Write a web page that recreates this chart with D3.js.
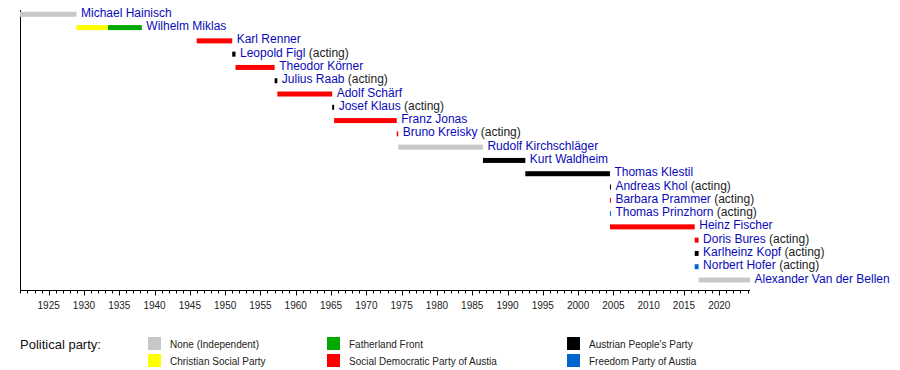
<!DOCTYPE html>
<html><head><meta charset="utf-8">
<script src="https://cdn.jsdelivr.net/npm/d3@7/dist/d3.min.js"></script>
<style>body{margin:0;background:#fff}svg{display:block}</style>
</head><body><svg id="c" width="900" height="370"></svg>
<script>
const presidents = ["Michael Hainisch","Wilhelm Miklas","Karl Renner","Leopold Figl","Theodor Körner","Julius Raab","Adolf Schärf","Josef Klaus","Franz Jonas","Bruno Kreisky","Rudolf Kirchschläger","Kurt Waldheim","Thomas Klestil","Andreas Khol","Barbara Prammer","Thomas Prinzhorn","Heinz Fischer","Doris Bures","Karlheinz Kopf","Norbert Hofer","Alexander Van der Bellen"];
const acting = [false,false,false,true,false,true,false,true,false,true,false,false,false,true,true,true,false,true,true,true,false];
// term segments: row index, party, start, end (decimal years)
const segRow   = [0,1,1,2,3,4,5,6,7,8,9,10,11,12,13,14,15,16,17,18,19,20];
const segParty = ["none","csp","ff","spo","ovp","spo","ovp","spo","ovp","spo","spo","none","ovp","ovp","ovp","spo","fpo","spo","spo","ovp","fpo","none"];
const segStart = [1920.94,1928.94,1933.40,1945.97,1951.00,1951.47,1957.01,1957.39,1965.16,1965.44,1974.31,1974.52,1986.52,1992.52,2004.51,2004.51,2004.51,2004.52,2016.52,2016.52,2016.52,2017.07];
const segEnd   = [1928.94,1933.40,1938.20,1951.00,1951.47,1957.01,1957.39,1965.16,1965.44,1974.31,1974.52,1986.52,1992.52,2004.51,2004.52,2004.52,2004.52,2016.52,2017.07,2017.07,2017.07,2024.35];
const partyKeys = ["none","csp","ff","spo","ovp","fpo"];
const partyNames = ["None (Independent)","Christian Social Party","Fatherland Front","Social Democratic Party of Austia","Austrian People's Party","Freedom Party of Austia"];
const partyColors = ["#c8c8c8","#ffff00","#00aa00","#ff0000","#000000","#0066cc"];
const majorTicks = d3.range(1925, 2021, 5);
const minorTicks = d3.range(1921, 2025, 1);
const domain = [1920.94, 2024.35];

const svg = d3.select("#c");
const x = d3.scaleLinear().domain(domain).range([20, 750]);
const y = d3.scalePoint().domain(d3.range(presidents.length)).range([14.3, 280]);
const color = d3.scaleOrdinal().domain(partyKeys).range(partyColors);
const barH = 5;

// axes lines
svg.append("line").attr("x1",20.5).attr("x2",20.5).attr("y1",10).attr("y2",291).attr("stroke","#000");
const axisG = svg.append("g").attr("transform","translate(0,290.5)");
axisG.append("line").attr("x1",20).attr("x2",750).attr("stroke","#000");
axisG.selectAll("line.minor").data(minorTicks).join("line").attr("class","minor")
  .attr("x1",d=>Math.round(x(d))+0.5).attr("x2",d=>Math.round(x(d))+0.5).attr("y1",0).attr("y2",3).attr("stroke","#000");
axisG.selectAll("line.major").data(majorTicks).join("line").attr("class","major")
  .attr("x1",d=>Math.round(x(d))+0.5).attr("x2",d=>Math.round(x(d))+0.5).attr("y1",0).attr("y2",5).attr("stroke","#000");
axisG.selectAll("text").data(majorTicks).join("text")
  .attr("x",d=>x(d)).attr("y",18).attr("text-anchor","middle")
  .attr("font-family","Liberation Sans, Arial, sans-serif").attr("font-size",10).attr("fill","#222").text(d=>d);

// bars
const segs = segRow.map((r,i)=>({r, p:segParty[i], s:segStart[i], e:segEnd[i]}));
svg.selectAll("rect.bar").data(segs).join("rect").attr("class","bar")
  .attr("x",d=>x(d.s)).attr("y",d=>y(d.r)-barH/2)
  .attr("width",d=>Math.max(1, x(d.e)-x(d.s))).attr("height",barH)
  .attr("fill",d=>color(d.p));

// labels
const rowEnd = presidents.map((n,i)=>d3.max(segs.filter(s=>s.r===i), s=>Math.max(x(s.e), x(s.s)+1)));
const lab = svg.selectAll("text.lab").data(presidents).join("text").attr("class","lab")
  .attr("x",(d,i)=>rowEnd[i]+4.5).attr("y",(d,i)=>y(i)+2.6)
  .attr("font-family","Liberation Sans, Arial, sans-serif").attr("font-size",12);
lab.append("tspan").attr("fill","#0a0ab8").text(d=>d);
lab.filter((d,i)=>acting[i]).append("tspan").attr("fill","#222").text(" (acting)");

// legend
svg.append("text").attr("x",20).attr("y",348.5).attr("font-family","Liberation Sans, Arial, sans-serif")
  .attr("font-size",13).attr("fill","#111").text("Political party:");
const colX = [148, 327, 567];
const leg = svg.selectAll("g.leg").data(partyKeys).join("g").attr("class","leg")
  .attr("transform",(d,i)=>`translate(${colX[Math.floor(i/2)]},${i%2===0?337:354})`);
leg.append("rect").attr("width",13).attr("height",13).attr("fill",d=>color(d));
leg.append("text").attr("x",22).attr("y",11).attr("font-family","Liberation Sans, Arial, sans-serif")
  .attr("font-size",10).attr("fill","#222").text((d,i)=>partyNames[i]);
</script></body></html>
